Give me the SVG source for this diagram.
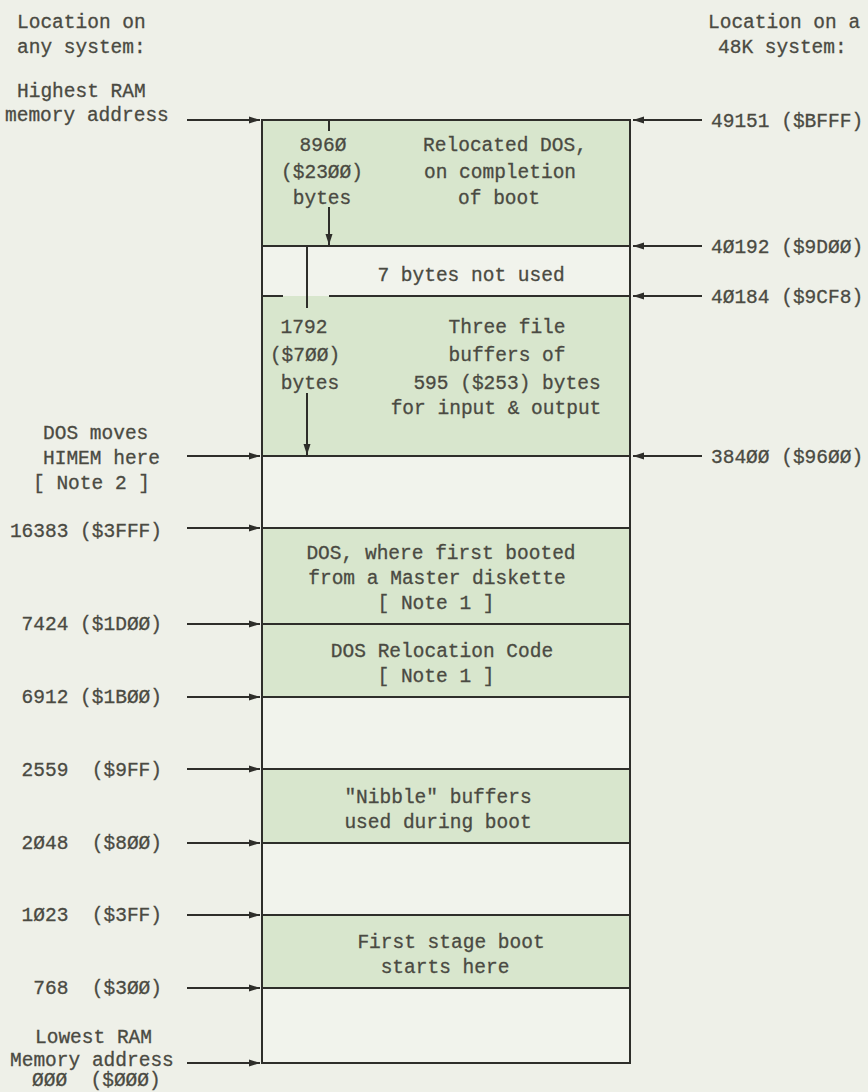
<svg xmlns="http://www.w3.org/2000/svg" width="868" height="1092" viewBox="0 0 868 1092">
<defs>
<marker id="ah" markerWidth="11" markerHeight="8" refX="11" refY="4" orient="auto" markerUnits="userSpaceOnUse">
<path d="M0,0.5 L11,4 L0,7.5 z" fill="#2e2e2a"/>
</marker>
<style>
text{font-family:"Liberation Mono","DejaVu Sans Mono",monospace;font-size:19.5px;fill:#4a4a42;stroke:#4a4a42;stroke-width:0.3}
.m{text-anchor:middle}
.e{text-anchor:end}
.g{fill:#d8e6cd;stroke:none}
.w{fill:#f1f3ec;stroke:none}
.ln{stroke:#2e2e2a;stroke-width:2;fill:none}
.ar{stroke:#2e2e2a;stroke-width:2;fill:none;marker-end:url(#ah)}
</style>
</defs>
<rect x="0" y="0" width="868" height="1092" fill="#eef0e8"/>

<g id="block-relocated-dos">
<rect class="g" x="262" y="120" width="368" height="126"/>
<text class="m" x="323" y="151">896Ø</text>
<text class="m" x="322" y="178">($23ØØ)</text>
<text class="m" x="322" y="204">bytes</text>
<text class="m" x="505" y="151">Relocated DOS,</text>
<text class="m" x="500" y="178">on completion</text>
<text class="m" x="499" y="204">of boot</text>
</g>
<g id="block-unused">
<rect class="w" x="262" y="246" width="368" height="50"/>
<text class="m" x="471" y="281">7 bytes not used</text>
</g>
<g id="block-file-buffers">
<rect class="g" x="262" y="296" width="368" height="160"/>
<text class="m" x="304" y="333">1792</text>
<text class="m" x="305" y="361">($7ØØ)</text>
<text class="m" x="310" y="389">bytes</text>
<text class="m" x="507" y="333">Three file</text>
<text class="m" x="507" y="361">buffers of</text>
<text class="m" x="507" y="389">595 ($253) bytes</text>
<text class="m" x="496" y="414">for input &amp; output</text>
</g>
<g id="block-free-1">
<rect class="w" x="262" y="456" width="368" height="72"/>
</g>
<g id="block-dos-first">
<rect class="g" x="262" y="528" width="368" height="96"/>
<text class="m" x="441" y="559">DOS, where first booted</text>
<text class="m" x="437" y="584">from a Master diskette</text>
<text class="m" x="436" y="609">[ Note 1 ]</text>
</g>
<g id="block-relocation-code">
<rect class="g" x="262" y="624" width="368" height="73"/>
<text class="m" x="442" y="657">DOS Relocation Code</text>
<text class="m" x="436" y="682">[ Note 1 ]</text>
</g>
<g id="block-free-2">
<rect class="w" x="262" y="697" width="368" height="72"/>
</g>
<g id="block-nibble">
<rect class="g" x="262" y="769" width="368" height="74"/>
<text class="m" x="438" y="803">"Nibble" buffers</text>
<text class="m" x="438" y="828">used during boot</text>
</g>
<g id="block-free-3">
<rect class="w" x="262" y="843" width="368" height="72"/>
</g>
<g id="block-first-stage">
<rect class="g" x="262" y="915" width="368" height="73"/>
<text class="m" x="451" y="948">First stage boot</text>
<text class="m" x="445" y="973">starts here</text>
</g>
<g id="block-free-4">
<rect class="w" x="262" y="988" width="368" height="75"/>
</g>

<g id="frame">
<rect class="ln" x="262" y="120" width="368" height="943"/>
<line class="ln" x1="262" y1="246" x2="630" y2="246"/>
<line class="ln" x1="262" y1="296" x2="283" y2="296"/>
<line class="ln" x1="329" y1="296" x2="630" y2="296"/>
<line class="ln" x1="262" y1="456" x2="630" y2="456"/>
<line class="ln" x1="262" y1="528" x2="630" y2="528"/>
<line class="ln" x1="262" y1="624" x2="630" y2="624"/>
<line class="ln" x1="262" y1="697" x2="630" y2="697"/>
<line class="ln" x1="262" y1="769" x2="630" y2="769"/>
<line class="ln" x1="262" y1="843" x2="630" y2="843"/>
<line class="ln" x1="262" y1="915" x2="630" y2="915"/>
<line class="ln" x1="262" y1="988" x2="630" y2="988"/>
</g>

<g id="labels-left">
<text x="17" y="28">Location on</text>
<text x="17" y="53">any system:</text>
<text x="17" y="97">Highest RAM</text>
<text x="5" y="121">memory address</text>
<text x="43" y="439">DOS moves</text>
<text x="43" y="464">HIMEM here</text>
<text x="33" y="489">[ Note 2 ]</text>
<text class="e" x="162" y="537">16383 ($3FFF)</text>
<text class="e" x="162" y="630">7424 ($1DØØ)</text>
<text class="e" x="162" y="703">6912 ($1BØØ)</text>
<text class="e" x="162" y="776" xml:space="preserve">2559  ($9FF)</text>
<text class="e" x="162" y="849" xml:space="preserve">2Ø48  ($8ØØ)</text>
<text class="e" x="162" y="921" xml:space="preserve">1Ø23  ($3FF)</text>
<text class="e" x="162" y="994" xml:space="preserve">768  ($3ØØ)</text>
<text x="35" y="1043">Lowest RAM</text>
<text x="10" y="1066">Memory address</text>
<text x="32" y="1086" xml:space="preserve">ØØØ  ($ØØØ)</text>
</g>

<g id="labels-right">
<text x="708" y="28">Location on a</text>
<text x="718" y="53">48K system:</text>
<text x="711" y="127">49151 ($BFFF)</text>
<text x="711" y="253">4Ø192 ($9DØØ)</text>
<text x="711" y="303">4Ø184 ($9CF8)</text>
<text x="711" y="463">384ØØ ($96ØØ)</text>
</g>

<g id="connectors">
<line class="ar" x1="187" y1="120" x2="260" y2="120"/>
<line class="ar" x1="187" y1="456" x2="260" y2="456"/>
<line class="ar" x1="187" y1="528" x2="260" y2="528"/>
<line class="ar" x1="187" y1="624" x2="260" y2="624"/>
<line class="ar" x1="187" y1="697" x2="260" y2="697"/>
<line class="ar" x1="187" y1="769" x2="260" y2="769"/>
<line class="ar" x1="187" y1="843" x2="260" y2="843"/>
<line class="ar" x1="187" y1="915" x2="260" y2="915"/>
<line class="ar" x1="187" y1="988" x2="260" y2="988"/>
<line class="ar" x1="187" y1="1063" x2="260" y2="1063"/>
<line class="ar" x1="702" y1="120" x2="633" y2="120"/>
<line class="ar" x1="702" y1="246" x2="633" y2="246"/>
<line class="ar" x1="702" y1="296" x2="633" y2="296"/>
<line class="ar" x1="702" y1="456" x2="633" y2="456"/>
<line class="ln" x1="329" y1="120" x2="329" y2="131"/>
<line class="ar" x1="329" y1="207" x2="329" y2="245"/>
<line class="ln" x1="307" y1="246" x2="307" y2="308"/>
<line class="ar" x1="307" y1="393" x2="307" y2="455"/>
</g>
</svg>
